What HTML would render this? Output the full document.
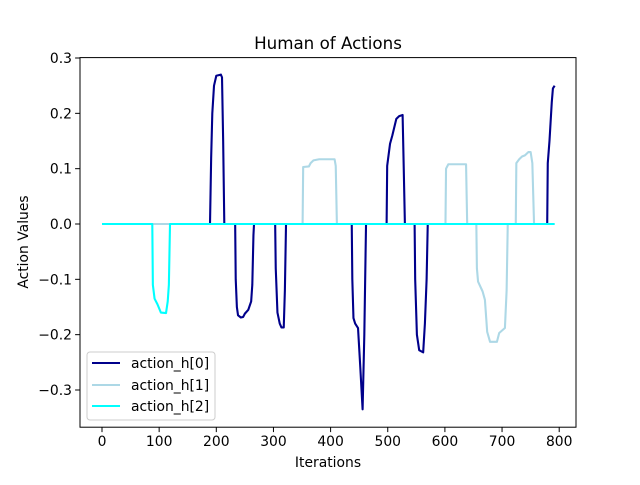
<!DOCTYPE html>
<html><head><meta charset="utf-8">
<style>
body{margin:0;background:#fff;}
svg text{font-family:"DejaVu Sans","Liberation Sans",sans-serif;fill:#000;}
</style></head>
<body>
<svg id="chart" width="640" height="480" xmlns="http://www.w3.org/2000/svg">
<rect x="0" y="0" width="640" height="480" fill="#fff"/>
<text x="328" y="49" font-size="16.7" text-anchor="middle">Human of Actions</text>
<g id="plot"></g>
<g id="axes"></g>
<text x="328" y="467" font-size="13.9" text-anchor="middle">Iterations</text>
<text transform="translate(28,242) rotate(-90)" font-size="13.9" text-anchor="middle">Action Values</text>
<g>
<rect x="87" y="352" width="128" height="68" rx="3" fill="#fff" fill-opacity="0.8" stroke="#ccc" stroke-width="1"/>
<line x1="92" y1="363" x2="120" y2="363" stroke="#00008b" stroke-width="2.1"/>
<text x="131" y="368" font-size="13.9">action_h[0]</text>
<line x1="92" y1="385" x2="120" y2="385" stroke="#add8e6" stroke-width="2.1"/>
<text x="131" y="390" font-size="13.9">action_h[1]</text>
<line x1="92" y1="406" x2="120" y2="406" stroke="#00ffff" stroke-width="2.1"/>
<text x="131" y="411" font-size="13.9">action_h[2]</text>
</g>
</svg>
<script>
const xTicks=[0,100,200,300,400,500,600,700,800];
const yTicks=[0.3,0.2,0.1,0.0,-0.1,-0.2,-0.3];
const yTickLabels=["0.3","0.2","0.1","0.0","\u22120.1","\u22120.2","\u22120.3"];
const h0X=[0,189,191,193,196,200,208,210,212,214,233,234,236,238,243,247,250,256,261,263,265,266,303,304,307,311,314,318,320,322,437,438,440,443,448,452,456,459,462,498,499,504,508,515,520,526,528,530,547,548,551,555,562,565,568,570,779,780,783,787,789,792];
const h0Y=[0,0,0.12,0.2,0.25,0.268,0.27,0.265,0.15,0,0,-0.1,-0.15,-0.165,-0.169,-0.168,-0.162,-0.155,-0.14,-0.11,-0.02,0,0,-0.08,-0.16,-0.18,-0.187,-0.187,-0.12,0,0,-0.1,-0.17,-0.18,-0.188,-0.26,-0.335,-0.2,0,0,0.105,0.145,0.16,0.19,0.195,0.197,0.1,0,0,-0.1,-0.2,-0.228,-0.232,-0.18,-0.1,0,0,0.11,0.15,0.22,0.245,0.25];
const h1X=[0,351,352,362,365,370,380,407,409,411,601,602,606,637,639,655,656,658,666,670,674,679,691,695,705,708,710,724,725,730,735,740,746,750,753,756,792];
const h1Y=[0,0,0.103,0.104,0.11,0.115,0.117,0.117,0.105,0,0,0.1,0.108,0.108,0,0,-0.08,-0.104,-0.122,-0.137,-0.195,-0.213,-0.213,-0.197,-0.188,-0.12,0,0,0.11,0.117,0.122,0.124,0.13,0.13,0.11,0,0];
const h2X=[0,88,89,92,97,103,112,115,117,119,792];
const h2Y=[0,0,-0.11,-0.135,-0.145,-0.16,-0.161,-0.14,-0.11,0,0];
const L=80,R=576,T=57.6,B=427.2;
const x0px=102,xScale=0.5715;
const y0px=224,yScale=553.3;
function sx(v){return x0px+v*xScale;}
function sy(v){return y0px-v*yScale;}
const NS="http://www.w3.org/2000/svg";
const plot=document.getElementById('plot');
const axes=document.getElementById('axes');
function drawSeries(xs,ys,color,name){
  const p=document.createElementNS(NS,'polyline');
  p.setAttribute('points',xs.map((x,i)=>sx(x).toFixed(2)+','+sy(ys[i]).toFixed(2)).join(' '));
  p.setAttribute('fill','none');p.setAttribute('stroke',color);p.setAttribute('stroke-width','2.1');
  p.setAttribute('stroke-linejoin','round');
  
  
  plot.appendChild(p);
}
drawSeries(h0X,h0Y,'#00008b','series-action-h0');
drawSeries(h1X,h1Y,'#add8e6','series-action-h1');
drawSeries(h2X,h2Y,'#00ffff','series-action-h2');
const frame=document.createElementNS(NS,'rect');
frame.setAttribute('x',L);frame.setAttribute('y',T);frame.setAttribute('width',R-L);frame.setAttribute('height',B-T);
frame.setAttribute('fill','none');frame.setAttribute('stroke','#000');frame.setAttribute('stroke-width','1');


axes.appendChild(frame);
xTicks.forEach(v=>{
  const x=sx(v);
  const l=document.createElementNS(NS,'line');
  l.setAttribute('x1',x);l.setAttribute('x2',x);l.setAttribute('y1',B);l.setAttribute('y2',B+4.9);l.setAttribute('stroke','#000');
  
  
  axes.appendChild(l);
  const t=document.createElementNS(NS,'text');
  t.setAttribute('x',x);t.setAttribute('y',B+19);t.setAttribute('font-size','13.9');t.setAttribute('text-anchor','middle');
  t.textContent=String(v);
  
  
  axes.appendChild(t);
});
yTicks.forEach((v,i)=>{
  const y=sy(v);
  const l=document.createElementNS(NS,'line');
  l.setAttribute('x1',L-4.9);l.setAttribute('x2',L);l.setAttribute('y1',y);l.setAttribute('y2',y);l.setAttribute('stroke','#000');
  
  
  axes.appendChild(l);
  const t=document.createElementNS(NS,'text');
  t.setAttribute('x',L-8);t.setAttribute('y',y+5);t.setAttribute('font-size','13.9');t.setAttribute('text-anchor','end');
  t.textContent=yTickLabels[i];
  
  
  axes.appendChild(t);
});
</script>
</body></html>
